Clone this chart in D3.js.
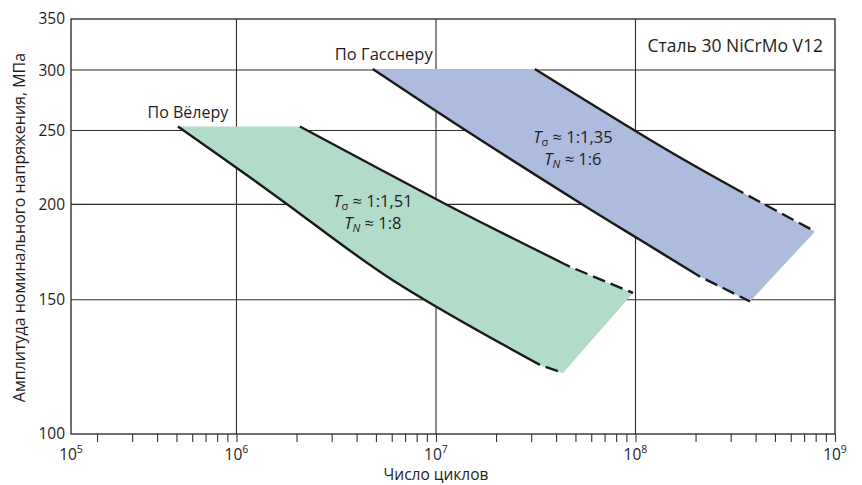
<!DOCTYPE html>
<html><head><meta charset="utf-8">
<script src="https://cdn.jsdelivr.net/npm/d3@7"></script>
<style>
body{margin:0;background:#fff}
svg text{font-family:"Open Sans",sans-serif;fill:#1e1e1e}
</style>
</head><body>
<svg id="chart" width="862" height="485"></svg>
<script>
// ---- data ----
const yTicks = [100, 150, 200, 250, 300, 350];
const yGrid = [150, 200, 250, 300];
const xDecades = [5, 6, 7, 8, 9];
const xGrid = [1e6, 1e7, 1e8];
const xMin = 1.481e5, xMax = 1e9, yMin = 100, yMax = 350;

// По Вёлеру (green band)
const wohlerLowerN = [5.09e5, 1e6, 1.69e6, 6.02e6, 3.32e7, 4.33e7];
const wohlerLowerS = [253, 223.4, 202.4, 159.3, 123.2, 120.2];
const wohlerUpperN = [2.08e6, 1.084e7, 1.66e7, 4.69e7, 9.72e7];
const wohlerUpperS = [253, 201, 189.8, 165.7, 153.1];
// По Гасснеру (blue band)
const gassnerLowerN = [4.82e6, 1.37e7, 5.27e7, 1.053e8, 2.11e8, 3.75e8];
const gassnerLowerS = [301, 251.3, 200.9, 179.7, 160.8, 149.2];
const gassnerUpperN = [3.13e7, 1.434e8, 3.47e8, 7.94e8];
const gassnerUpperS = [301, 235.9, 207, 184.3];

const bands = [
  {lowN: wohlerLowerN, lowS: wohlerLowerS, lowDash: 4,
   upN: wohlerUpperN, upS: wohlerUpperS, upDash: 3, fill: "#b2dcca"},
  {lowN: gassnerLowerN, lowS: gassnerLowerS, lowDash: 4,
   upN: gassnerUpperN, upS: gassnerUpperS, upDash: 2, fill: "#adbbdf"}
];

// ---- scales ----
const svg = d3.select("#chart");
const x = d3.scaleLog().domain([xMin, xMax]).range([71, 835]);
const y = d3.scaleLog().domain([yMin, yMax]).range([434, 19]);

// grid
const g = svg.append("g");
g.selectAll("line.vg").data(xGrid).join("line")
  .attr("x1", d => x(d)).attr("x2", d => x(d))
  .attr("y1", y(yMin)).attr("y2", y(yMax))
  .attr("stroke", "#2e2e2e").attr("stroke-width", 1.1);
g.selectAll("line.hg").data(yGrid).join("line")
  .attr("x1", x(xMin)).attr("x2", x(xMax))
  .attr("y1", d => y(d)).attr("y2", d => y(d))
  .attr("stroke", "#2e2e2e").attr("stroke-width", 1.1);

// bands
const line = d3.line().x(d => x(d[0])).y(d => y(d[1])).curve(d3.curveCatmullRom.alpha(0.5));
bands.forEach(b => {
  const low = b.lowN.map((n, i) => [n, b.lowS[i]]);
  const up = b.upN.map((n, i) => [n, b.upS[i]]);
  const upPath = line(up);
  const lowRev = line(low.slice().reverse()).replace(/^M/, "L");
  svg.append("path").attr("d", upPath + lowRev + "Z").attr("fill", b.fill);
  [[low, b.lowDash], [up, b.upDash]].forEach(([pts, k]) => {
    svg.append("path").attr("d", line(pts.slice(0, k + 1)))
      .attr("fill", "none").attr("stroke", "#1a1a1a").attr("stroke-width", 2.4);
    svg.append("path").attr("d", line(pts.slice(k)))
      .attr("fill", "none").attr("stroke", "#1a1a1a").attr("stroke-width", 2.4)
      .attr("stroke-dasharray", "13,6").attr("stroke-dashoffset", 13);
  });
});

// frame
svg.append("rect").attr("x", x(xMin)).attr("y", y(yMax))
  .attr("width", x(xMax) - x(xMin)).attr("height", y(yMin) - y(yMax))
  .attr("fill", "none").attr("stroke", "#222").attr("stroke-width", 1.3);

// x minor/major ticks via axis
const tickVals = [];
xDecades.forEach(e => { for (let k = 1; k <= 9; k++) { const v = k * Math.pow(10, e); if (v > xMin * 1.01 && v <= xMax * 1.0001) tickVals.push(v); } });
const xAxis = svg.append("g").attr("transform", `translate(0,${y(yMin)})`)
  .call(d3.axisBottom(x).tickValues(tickVals).tickSize(8).tickSizeOuter(0).tickFormat(""));
xAxis.select(".domain").remove();
xAxis.selectAll(".tick line").attr("stroke", "#333").attr("stroke-width", 1.1);

// x decade labels
const xl = svg.append("g");
xDecades.forEach(e => {
  const v = Math.max(Math.pow(10, e), xMin);
  const t = xl.append("text").attr("x", x(v)).attr("y", 460)
    .attr("text-anchor", "middle").attr("font-size", 15.5);
  t.append("tspan").text("10");
  t.append("tspan").attr("dy", -7).attr("font-size", 10.5).text(e);
});

// y axis labels
const yAxis = svg.append("g").attr("transform", `translate(${x(xMin)},0)`)
  .call(d3.axisLeft(y).tickValues(yTicks).tickSize(0).tickPadding(6).tickFormat(d3.format("d")));
yAxis.select(".domain").remove();
yAxis.selectAll("text").attr("font-size", 15.5).attr("font-family", "Open Sans").attr("fill", "#1e1e1e");

// axis titles
svg.append("text").attr("x", x(1e7)).attr("y", 480).attr("text-anchor", "middle")
  .attr("font-size", 15.5).text("Число циклов");
svg.append("text").attr("transform", `translate(25,${(y(yMin) + y(yMax)) / 2 + 1}) rotate(-90)`)
  .attr("text-anchor", "middle").attr("font-size", 16)
  .text("Амплитуда номинального напряжения, МПа");

// labels
function label(txt, n, s, fs) {
  svg.append("text").attr("x", x(n)).attr("y", y(s)).attr("text-anchor", "end")
    .attr("font-size", fs).text(txt);
}
label("По Вёлеру", 9.1e5, 259.8, 16);
label("По Гасснеру", 9.63e6, 309.7, 16.5);
label("Сталь 30 NiCrMo V12", 8.71e8, 316.5, 17.5);

// ratio annotations
function ratio(n, s, sub, r1, r2) {
  const lines = [[sub[0], r1], [sub[1], r2]];
  lines.forEach(([sb, r], i) => {
    const t = svg.append("text").attr("x", x(n)).attr("y", y(s) + i * 22)
      .attr("text-anchor", "middle").attr("font-size", 16.5);
    t.append("tspan").attr("font-style", "italic").text("T");
    t.append("tspan").attr("dy", 3).attr("font-size", 11)
      .attr("font-style", sb === "N" ? "italic" : "normal").text(sb);
    t.append("tspan").attr("dy", -3).text(" ≈ " + r);
  });
}
ratio(4.83e6, 198.5, ["σ", "N"], "1:1,51", "1:8");
ratio(4.86e7, 241, ["σ", "N"], "1:1,35", "1:6");
</script>
</body></html>
